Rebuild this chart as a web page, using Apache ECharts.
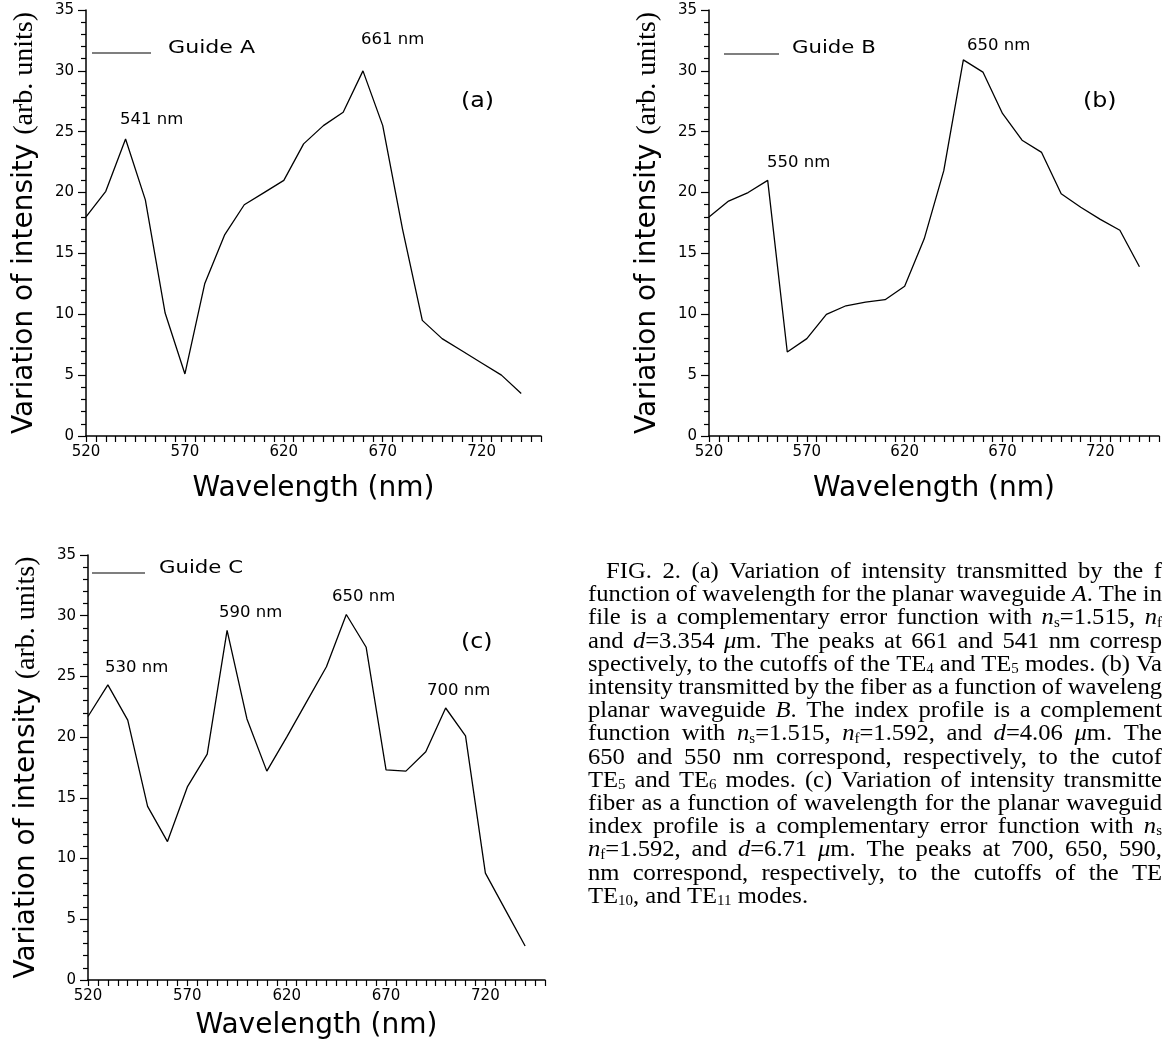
<!DOCTYPE html>
<html>
<head>
<meta charset="utf-8">
<script src="https://cdn.jsdelivr.net/npm/echarts@6/dist/echarts.min.js"></script>
<style>
  html, body { margin: 0; padding: 0; background: #fff; }
  #chart { width: 1162px; height: 1048px; }
</style>
</head>
<body>
<div id="chart"></div>
<script>
// wavelength samples (nm), shared by all three guides
const wavelengths = [520, 530, 540, 550, 560, 570, 580, 590, 600, 610, 620, 630,
  640, 650, 660, 670, 680, 690, 700, 710, 720, 730, 740];
// intensity variation (arb. units)
const guideA = [18.0, 20.1, 24.4, 19.4, 10.1, 5.1, 12.5, 16.5, 19.0, 20.0, 21.0, 24.0,
  25.5, 26.6, 30.0, 25.5, 17.0, 9.5, 8.0, 7.0, 6.0, 5.0, 3.5];
const guideB = [18.0, 19.3, 20.0, 21.0, 6.9, 8.0, 10.0, 10.7, 11.0, 11.2, 12.3, 16.2,
  21.8, 30.9, 29.9, 26.5, 24.3, 23.3, 19.9, 18.8, 17.8, 16.9, 13.9];
const guideC = [21.7, 24.3, 21.4, 14.3, 11.4, 15.9, 18.6, 28.8, 21.5, 17.2, 20.0, 22.9,
  25.8, 30.1, 27.4, 17.3, 17.2, 18.8, 22.4, 20.1, 8.8, 5.8, 2.8];

const xTickLabels = [520, 570, 620, 670, 720];
const yTickLabels = [0, 5, 10, 15, 20, 25, 30, 35];

const SANS = "DejaVu Sans";
const SERIF = "Liberation Serif";

const chart = echarts.init(document.getElementById("chart"), null, { renderer: "canvas" });

// the three panels
const grids = [
  { left: 86, top: 10, width: 455, height: 426 },
  { left: 709, top: 10, width: 455, height: 426 },
  { left: 88, top: 555, width: 457, height: 425 },
];
const xNameGaps = [39, 39, 32];

const makeX = (i) => ({
  type: "value",
  gridIndex: i,
  min: 520,
  max: 750,
  interval: 10,
  axisLine: { lineStyle: { color: "#000", width: 1.5 } },
  axisTick: { length: 6, lineStyle: { color: "#000", width: 1.2 } },
  minorTick: { show: true, splitNumber: 2, length: 6, lineStyle: { color: "#000", width: 1.2 } },
  splitLine: { show: false },
  axisLabel: {
    formatter: (v) => (xTickLabels.includes(v) ? String(v) : ""),
    color: "#000",
    fontSize: 15,
    fontFamily: SANS,
    margin: 9,
  },
  name: "Wavelength (nm)",
  nameLocation: "middle",
  nameGap: xNameGaps[i],
  nameTextStyle: { fontSize: 28, fontFamily: SANS, color: "#000" },
});

const makeY = (i) => ({
  type: "value",
  gridIndex: i,
  min: 0,
  max: 35,
  interval: 5,
  axisLine: { show: true, lineStyle: { color: "#000", width: 1.5 } },
  axisTick: { show: true, length: 8, lineStyle: { color: "#000", width: 1.2 } },
  minorTick: { show: true, splitNumber: 5, length: 5, lineStyle: { color: "#000", width: 1.2 } },
  splitLine: { show: false },
  axisLabel: {
    formatter: (v) => (yTickLabels.includes(v) ? String(v) : ""),
    color: "#000",
    fontSize: 15,
    fontFamily: SANS,
    margin: 12,
  },
  name: "{s|Variation of intensity }{r|(arb. units)}",
  nameLocation: "middle",
  nameGap: 47,
  nameTextStyle: {
    color: "#000",
    rich: {
      s: { fontSize: 28, fontFamily: SANS, color: "#000" },
      r: { fontSize: 28, fontFamily: SERIF, color: "#000" },
    },
  },
});

const makeSeries = (name, values, i) => ({
  name: name,
  type: "line",
  xAxisIndex: i,
  yAxisIndex: i,
  data: wavelengths.map((w, k) => [w, values[k]]),
  showSymbol: false,
  lineStyle: { color: "#000", width: 1.3 },
  animation: false,
});

// annotation text, stretched a bit sideways like the plotter lettering
const label = (text, x, y, size, stretch) => ({
  type: "text",
  x: x,
  y: y,
  scaleX: stretch || 1.1,
  style: {
    text: text,
    fontSize: size || 15,
    fontFamily: SANS,
    fill: "#000",
    verticalAlign: "middle",
  },
});
const legendLine = (x1, x2, y) => ({
  type: "line",
  shape: { x1: x1, y1: y, x2: x2, y2: y },
  style: { stroke: "#000", lineWidth: 1.2 },
});

// caption, right side of the figure (cut at the page edge as in the print)
const captionLines = [
  "FIG. 2. (a) Variation of intensity transmitted by the f",
  "function of wavelength for the planar waveguide {i|A}. The in",
  "file is a complementary error function with {i|n}{sub|s}=1.515, {i|n}{sub|f}",
  "and {i|d}=3.354 {i|μ}m. The peaks at 661 and 541 nm corresp",
  "spectively, to the cutoffs of the TE{sub|4} and TE{sub|5} modes. (b) Va",
  "intensity transmitted by the fiber as a function of waveleng",
  "planar waveguide {i|B}. The index profile is a complement",
  "function with {i|n}{sub|s}=1.515, {i|n}{sub|f}=1.592, and {i|d}=4.06 {i|μ}m. The",
  "650 and 550 nm correspond, respectively, to the cutof",
  "TE{sub|5} and TE{sub|6} modes. (c) Variation of intensity transmitte",
  "fiber as a function of wavelength for the planar waveguid",
  "index profile is a complementary error function with {i|n}{sub|s}",
  "{i|n}{sub|f}=1.592, and {i|d}=6.71 {i|μ}m. The peaks at 700, 650, 590,",
  "nm correspond, respectively, to the cutoffs of the TE",
  "TE{sub|10}, and TE{sub|11} modes.",
];
const CAP_SIZE = 23;
const SUB_SIZE = 14;
const CAP_STRETCH = 1.07;
const CAP_RIGHT = 1162;
const captionRich = {
  i: { fontSize: CAP_SIZE, fontFamily: SERIF, fontStyle: "italic", fill: "#000" },
  sub: { fontSize: SUB_SIZE, fontFamily: SERIF, fill: "#000", verticalAlign: "bottom", lineHeight: 14 },
};

// measure a word with its rich pieces, so lines can be justified
const measureCtx = document.createElement("canvas").getContext("2d");
const fontFor = (tok) =>
  tok === "i" ? "italic " + CAP_SIZE + "px '" + SERIF + "'"
    : tok === "sub" ? SUB_SIZE + "px '" + SERIF + "'"
    : CAP_SIZE + "px '" + SERIF + "'";
const textWidth = (str) => {
  let w = 0;
  str.replace(/\{(\w+)\|([^}]*)\}|([^{]+)/g, (m, tok, inner, plain) => {
    measureCtx.font = fontFor(tok || "");
    w += measureCtx.measureText(tok ? inner : plain).width;
    return m;
  });
  return w * CAP_STRETCH;
};

const caption = [];
captionLines.forEach((line, k) => {
  const left = k === 0 ? 606 : 588;
  const y = 572 + k * 23.2;
  const words = line.split(" ");
  const widths = words.map(textWidth);
  const total = widths.reduce((a, b) => a + b, 0);
  const isLast = k === captionLines.length - 1;
  const gap = isLast ? textWidth(" ") : (CAP_RIGHT - left - total) / (words.length - 1);
  let x = left;
  words.forEach((w, j) => {
    caption.push({
      type: "text",
      x: x,
      y: y,
      scaleX: CAP_STRETCH,
      style: {
        text: w,
        fontSize: CAP_SIZE,
        fontFamily: SERIF,
        fill: "#000",
        verticalAlign: "middle",
        rich: captionRich,
      },
    });
    x += widths[j] + gap;
  });
});

const option = {
  animation: false,
  backgroundColor: "#fff",
  grid: grids,
  xAxis: [makeX(0), makeX(1), makeX(2)],
  yAxis: [makeY(0), makeY(1), makeY(2)],
  series: [
    makeSeries("Guide A", guideA, 0),
    makeSeries("Guide B", guideB, 1),
    makeSeries("Guide C", guideC, 2),
  ],
  graphic: [
    // panel (a)
    legendLine(92, 151, 53),
    label("Guide A", 168, 49, 17, 1.3),
    label("541 nm", 120, 120),
    label("661 nm", 361, 40),
    label("(a)", 461, 102, 21, 1.13),
    // panel (b)
    legendLine(724, 779, 54),
    label("Guide B", 792, 49, 17, 1.25),
    label("550 nm", 767, 163),
    label("650 nm", 967, 46),
    label("(b)", 1083, 102, 21, 1.13),
    // panel (c)
    legendLine(92, 145, 573),
    label("Guide C", 159, 569, 17, 1.25),
    label("530 nm", 105, 668),
    label("590 nm", 219, 613),
    label("650 nm", 332, 597),
    label("700 nm", 427, 691),
    label("(c)", 461, 643, 21, 1.13),
  ].concat(caption),
};

chart.setOption(option);
</script>
</body>
</html>
